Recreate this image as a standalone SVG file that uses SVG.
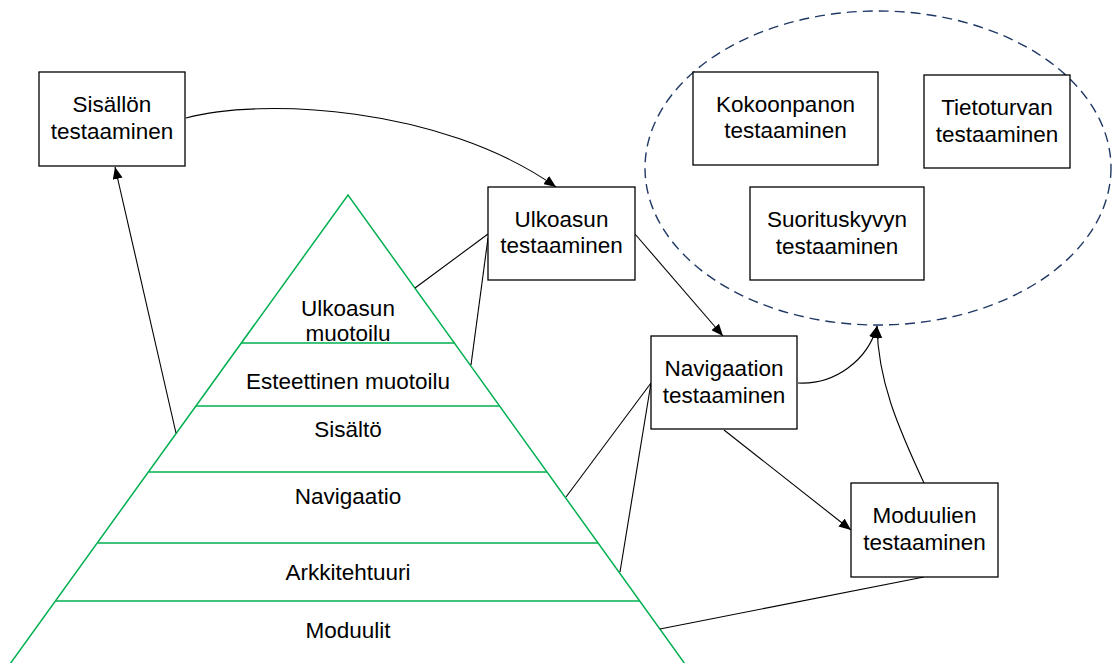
<svg xmlns="http://www.w3.org/2000/svg" width="1113" height="663" viewBox="0 0 1113 663">
  <style>
    .box { fill: #ffffff; stroke: #000000; stroke-width: 1.3; }
    .lbl { font-family: "Liberation Sans", Arial, sans-serif; font-size: 22.5px; fill: #000000; text-anchor: middle; }
    .pyr { fill: none; stroke: #00b050; stroke-width: 1.5; }
    .conn { fill: none; stroke: #000000; stroke-width: 1.1; }
    .group { fill: none; stroke: #1f3864; stroke-width: 1.4; stroke-dasharray: 10 6; }
  </style>
  <defs>
    <marker id="arrow" viewBox="0 0 12 10" refX="12" refY="5" markerWidth="12" markerHeight="10" orient="auto" markerUnits="userSpaceOnUse">
      <path d="M0,0 L12,5 L0,10 z" fill="#000000"/>
    </marker>
  </defs>
  <rect width="1113" height="663" fill="#ffffff"/>

  <!-- Pyramid of web layers -->
  <g id="pyramid">
    <polyline class="pyr" points="10,664 348,195 685,664"/>
    <line class="pyr" x1="241" y1="343" x2="455" y2="343"/>
    <line class="pyr" x1="196" y1="406" x2="500" y2="406"/>
    <line class="pyr" x1="149" y1="472" x2="547" y2="472"/>
    <line class="pyr" x1="98" y1="543" x2="598" y2="543"/>
    <line class="pyr" x1="56" y1="601" x2="640" y2="601"/>
    <text class="lbl" x="348" y="316">Ulkoasun</text>
    <text class="lbl" x="348" y="341">muotoilu</text>
    <text class="lbl" x="348" y="389">Esteettinen muotoilu</text>
    <text class="lbl" x="348" y="437">Sisältö</text>
    <text class="lbl" x="348" y="504">Navigaatio</text>
    <text class="lbl" x="348" y="580">Arkkitehtuuri</text>
    <text class="lbl" x="348" y="638">Moduulit</text>
  </g>

  <!-- Grouping of non-functional tests -->
  <g id="nonfunctional">
    <ellipse class="group" cx="878" cy="168" rx="233" ry="157"/>
  </g>

  <!-- Connectors -->
  <g id="connectors">
    <path class="conn" d="M176,433 L115,167" marker-end="url(#arrow)"/>
    <path class="conn" d="M186,118 C260,98 440,105 556,187" marker-end="url(#arrow)"/>
    <path class="conn" d="M488,234 L415,288"/>
    <path class="conn" d="M488,238 L471,365"/>
    <path class="conn" d="M635,234 L723,336" marker-end="url(#arrow)"/>
    <path class="conn" d="M651,383 L566,497"/>
    <path class="conn" d="M651,383 L620,572"/>
    <path class="conn" d="M798,383 C835,385 868,360 877,326" marker-end="url(#arrow)"/>
    <path class="conn" d="M924,483 C897,425 878,380 877,326" marker-end="url(#arrow)"/>
    <path class="conn" d="M724,430 L851,530" marker-end="url(#arrow)"/>
    <path class="conn" d="M924,577 L660,629"/>
  </g>

  <g id="sisallon">
    <rect class="box" x="39" y="72" width="146" height="94"/>
    <text class="lbl" x="112" y="112">Sisällön</text>
    <text class="lbl" x="112" y="139">testaaminen</text>
  </g>

  <g id="ulkoasun">
    <rect class="box" x="488" y="187" width="147" height="93"/>
    <text class="lbl" x="561.5" y="227">Ulkoasun</text>
    <text class="lbl" x="561.5" y="253">testaaminen</text>
  </g>

  <g id="navigaation">
    <rect class="box" x="651" y="336" width="146" height="93"/>
    <text class="lbl" x="724" y="376">Navigaation</text>
    <text class="lbl" x="724" y="403">testaaminen</text>
  </g>

  <g id="moduulien">
    <rect class="box" x="851" y="483" width="147" height="94"/>
    <text class="lbl" x="924.5" y="523">Moduulien</text>
    <text class="lbl" x="924.5" y="550">testaaminen</text>
  </g>

  <g id="kokoonpanon">
    <rect class="box" x="693" y="72" width="185" height="93"/>
    <text class="lbl" x="785.5" y="112">Kokoonpanon</text>
    <text class="lbl" x="785.5" y="138">testaaminen</text>
  </g>

  <g id="tietoturvan">
    <rect class="box" x="924" y="75" width="146" height="93"/>
    <text class="lbl" x="997" y="115">Tietoturvan</text>
    <text class="lbl" x="997" y="142">testaaminen</text>
  </g>

  <g id="suorituskyvyn">
    <rect class="box" x="750" y="187" width="174" height="93"/>
    <text class="lbl" x="837" y="227">Suorituskyvyn</text>
    <text class="lbl" x="837" y="254">testaaminen</text>
  </g>
</svg>
